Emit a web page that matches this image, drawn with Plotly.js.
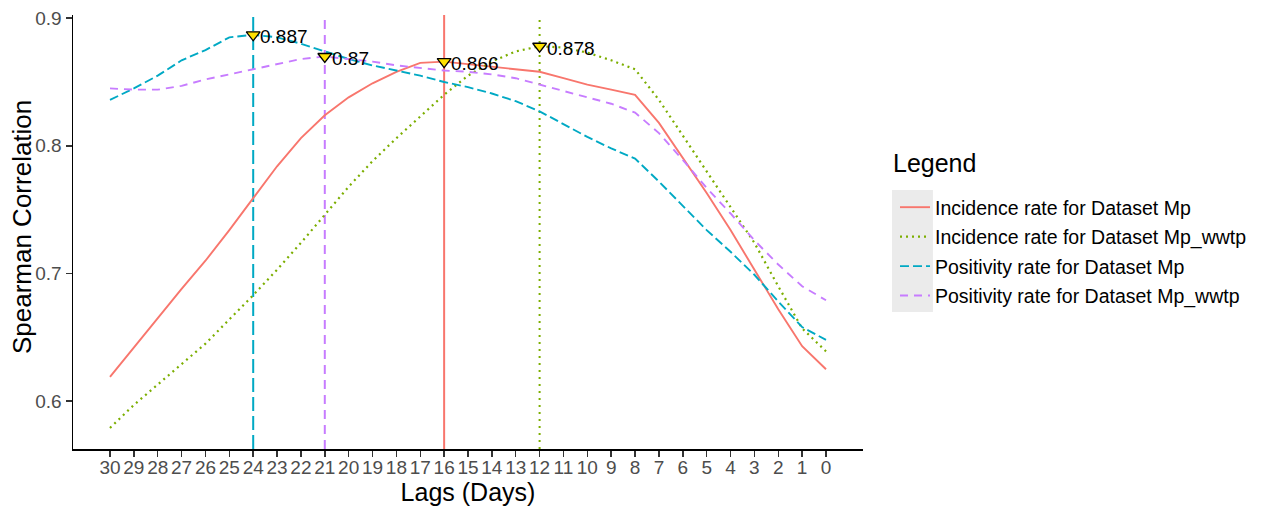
<!DOCTYPE html>
<html>
<head>
<meta charset="utf-8">
<script src="https://cdn.plot.ly/plotly-3.0.1.min.js"></script>
<style>html,body{margin:0;padding:0;background:#fff;}</style>
</head>
<body>
<div id="chart" style="width:1263px;height:506px;"></div>
<script>
// Lags (days), tick labels, left to right
const lags = [30,29,28,27,26,25,24,23,22,21,20,19,18,17,16,15,14,13,12,11,10,9,8,7,6,5,4,3,2,1,0];

const seriesNames = [
  "Incidence rate for Dataset Mp",
  "Incidence rate for Dataset Mp_wwtp",
  "Positivity rate for Dataset Mp",
  "Positivity rate for Dataset Mp_wwtp"
];

// Spearman correlation per lag (order matches lags)
const incidenceMp = [0.619,0.642,0.665,0.688,0.710,0.734,0.759,0.784,0.806,0.824,0.838,0.849,0.858,0.865,0.866,0.864,0.862,0.860,0.858,0.853,0.848,0.844,0.840,0.818,0.791,0.763,0.734,0.703,0.672,0.643,0.625];
const incidenceMpWwtp = [0.579,0.597,0.613,0.629,0.645,0.664,0.683,0.703,0.724,0.746,0.768,0.788,0.806,0.823,0.840,0.855,0.866,0.874,0.878,0.877,0.873,0.867,0.860,0.836,0.808,0.781,0.753,0.724,0.690,0.657,0.639];
const positivityMp = [0.836,0.845,0.855,0.867,0.875,0.885,0.887,0.885,0.880,0.874,0.868,0.863,0.859,0.855,0.850,0.846,0.841,0.835,0.827,0.817,0.807,0.798,0.790,0.772,0.753,0.734,0.717,0.699,0.678,0.658,0.648];
const positivityMpWwtp = [0.845,0.844,0.844,0.847,0.852,0.856,0.860,0.864,0.868,0.870,0.868,0.866,0.863,0.861,0.859,0.858,0.856,0.853,0.848,0.843,0.838,0.833,0.826,0.810,0.789,0.767,0.747,0.726,0.707,0.690,0.679];

const yTicks = [0.6, 0.7, 0.8, 0.9];

const allSeries = [incidenceMp, incidenceMpWwtp, positivityMp, positivityMpWwtp];
const colors = ["#F8766D", "#7CAE00", "#00A9C4", "#C77CFF"];
const lineDash = ["solid", "2px,4px", "9px,4px", "8px,6px"];
const vDash = ["solid", "2px,5px", "14px,5px", "9px,6px"];

const FONT = "Liberation Sans, Arial, sans-serif";
const L = 73, R = 864, T = 15, B = 449;
const PW = R - L, PH = B - T;

const traces = allSeries.map((vals, i) => ({
  type: "scatter", mode: "lines",
  x: lags, y: vals, name: seriesNames[i],
  legendgroup: "g" + i,
  line: {color: colors[i], width: i === 1 ? 2.2 : 1.9, dash: lineDash[i]},
  hoverinfo: "skip"
}));

// peaks
const peakX = [], peakY = [];
allSeries.forEach(vals => {
  let bi = 0;
  vals.forEach((v, j) => { if (v > vals[bi]) bi = j; });
  peakX.push(lags[bi]); peakY.push(vals[bi]);
});

const shapes = [{
  type: "rect", xref: "paper", yref: "paper",
  x0: (893-L)/PW, x1: (934-L)/PW, y0: (B-312)/PH, y1: (B-190)/PH,
  fillcolor: "#EBEBEB", line: {width: 0}, layer: "below"
}];
peakX.forEach((px, i) => {
  shapes.push({
    type: "line", xref: "x", yref: "paper", x0: px, x1: px, y0: 0, y1: 1,
    line: {color: colors[i], width: 2, dash: vDash[i]}, layer: "below"
  });
});

traces.push({
  type: "scatter", mode: "markers", x: peakX, y: peakY, showlegend: false,
  marker: {symbol: "triangle-down", size: 12, color: "#FFE100", line: {color: "#000", width: 1.3}},
  hoverinfo: "skip"
});

const annotations = peakX.map((px, i) => ({
  x: px, y: peakY[i], xref: "x", yref: "y",
  text: String(parseFloat(peakY[i].toFixed(3))),
  showarrow: false, xanchor: "left", yanchor: "middle", xshift: 5, yshift: -2,
  font: {family: FONT, size: 19, color: "#000"}
}));
annotations.push({
  text: "Legend", xref: "paper", yref: "paper",
  x: (892-L)/PW, y: (B-163)/PH, xanchor: "left", yanchor: "middle",
  showarrow: false, font: {family: FONT, size: 25, color: "#000"}
});
annotations.push({
  text: "Spearman Correlation", xref: "paper", yref: "paper",
  x: (22-L)/PW, y: (B-227)/PH, xanchor: "center", yanchor: "middle",
  textangle: -90, showarrow: false, font: {family: FONT, size: 26, color: "#000"}
});

const tickFont = {family: FONT, size: 19, color: "#4D4D4D"};

const layout = {
  width: 1263, height: 506,
  margin: {l: L, r: 1263 - R, t: T, b: 506 - B},
  paper_bgcolor: "#fff", plot_bgcolor: "#fff",
  font: {family: FONT},
  xaxis: {
    range: [31.55, -1.55], tickvals: lags, ticktext: lags.map(String),
    showline: true, linecolor: "#000", linewidth: 1.5, mirror: false,
    ticks: "outside", ticklen: 6, tickwidth: 1.5, tickcolor: "#333",
    ticklabelstandoff: -5,
    tickfont: tickFont, showgrid: false, zeroline: false, tickangle: 0,
    title: {text: "Lags (Days)", font: {family: FONT, size: 25, color: "#000"}, standoff: 5}
  },
  yaxis: {
    range: [0.5625, 0.9025], tickvals: yTicks, ticktext: yTicks.map(String),
    showline: true, linecolor: "#000", linewidth: 1.5,
    ticks: "outside", ticklen: 6, tickwidth: 1.5, tickcolor: "#333",
    tickfont: tickFont, showgrid: false, zeroline: false
  },
  legend: {
    x: (895-L)/PW, xanchor: "left", y: (B-188)/PH, yanchor: "top",
    bgcolor: "rgba(0,0,0,0)",
    font: {family: FONT, size: 19.5, color: "#000"},
    traceorder: "grouped", tracegroupgap: 1.1
  },
  shapes: shapes,
  annotations: annotations,
  showlegend: true
};

Plotly.newPlot("chart", traces, layout, {displayModeBar: false, staticPlot: true});
</script>
</body>
</html>
